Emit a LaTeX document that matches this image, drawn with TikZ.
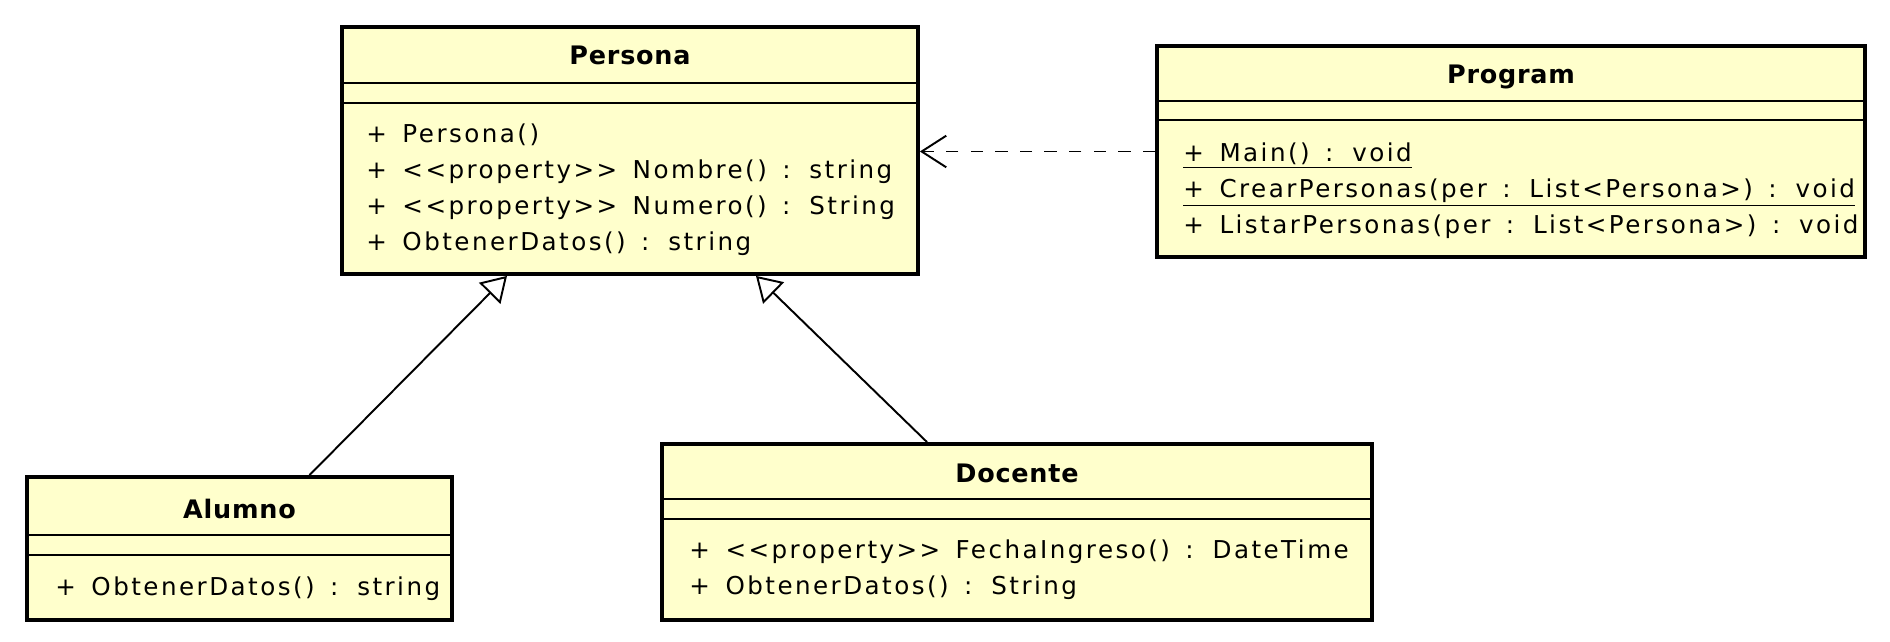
\documentclass[tikz,border=0pt]{standalone}
\usepackage{fontspec}
\setmainfont{DejaVu Sans}[Ligatures=TeXOff,LetterSpace=10,WordSpace=1.5,
    BoldFeatures={LetterSpace=3}]
\usetikzlibrary{arrows.meta,positioning,calc}
\definecolor{classfill}{RGB}{255,255,204}

\begin{document}
\begin{tikzpicture}
    [x=0.02cm,y=-0.02cm,
    class/.style={rectangle,draw=black,fill=classfill,line width=2.2pt,
    inner sep=0pt},
    classname/.style={inner sep=0pt,font=\fontsize{14.5}{16}\selectfont\bfseries},
    ops/.style={align=left,inner sep=0pt,font=\fontsize{14}{20.5}\selectfont},
    sep/.style={line width=0.8pt},
    inherit/.style={-{Triangle[open,length=14pt,width=17pt]},line width=1.1pt},
    uses/.style={-{Straight Barb[length=14pt,width=18pt]},
    dash pattern=on 7pt off 7pt,line width=1.1pt}]
    \useasboundingbox (0,0) rectangle (1890,642);
    \node[class,minimum width=11.52cm,minimum height=4.94cm] (persona) at (630,150.5) {};
    \node[class,minimum width=14.16cm,minimum height=4.22cm] (program) at (1511,151.5) {};
    \node[class,minimum width=8.5cm,minimum height=2.86cm] (alumno) at (239.5,548.5) {};
    \node[class,minimum width=14.2cm,minimum height=3.52cm] (docente) at (1017,532) {};
    % compartment lines
    \foreach \c/\a/\b in {persona/58/78,program/57/76,alumno/60/80,docente/57/77} {
        \draw[sep] ($(\c.north west)+(0,\a)$) -- ($(\c.north east)+(0,\a)$);
        \draw[sep] ($(\c.north west)+(0,\b)$) -- ($(\c.north east)+(0,\b)$);
    }
    \node[classname] (persona name) at ($(persona.north)+(0,30.5)$) {Persona};
    \node[classname] (program name) at ($(program.north)+(0,33)$) {Program};
    \node[classname] (alumno name) at ($(alumno.north)+(0,33.5)$) {Alumno};
    \node[classname] (docente name) at ($(docente.north)+(0,31.5)$) {Docente};
    \node[ops,below right=1.97cm and 0.52cm of persona.north west] (persona ops)
        {+ Persona()\\+ <<property>> Nombre() : string\\
         + <<property>> Numero() : String\\+ ObtenerDatos() : string};
    \node[ops,below right=1.97cm and 0.56cm of program.north west] (program ops)
        {\underline{+ Main() : void}\\
         \underline{+ CrearPersonas(per : List<Persona>) : void}\\
         + ListarPersonas(per : List<Persona>) : void};
    \node[ops,below right=2.03cm and 0.6cm of alumno.north west] (alumno ops)
        {+ ObtenerDatos() : string};
    \node[ops,below right=1.95cm and 0.58cm of docente.north west] (docente ops)
        {+ <<property>> FechaIngreso() : DateTime\\+ ObtenerDatos() : String};
    % relations
    \draw[inherit] ($(alumno.north)+(70,0)$) -- ($(persona.south)+(-123,0)$);
    \draw[inherit] ($(docente.north)+(-90,0)$) -- ($(persona.south)+(126,0)$);
    \draw[uses] (program.west) -- (program.west -| persona.east);
\end{tikzpicture}
\end{document}
